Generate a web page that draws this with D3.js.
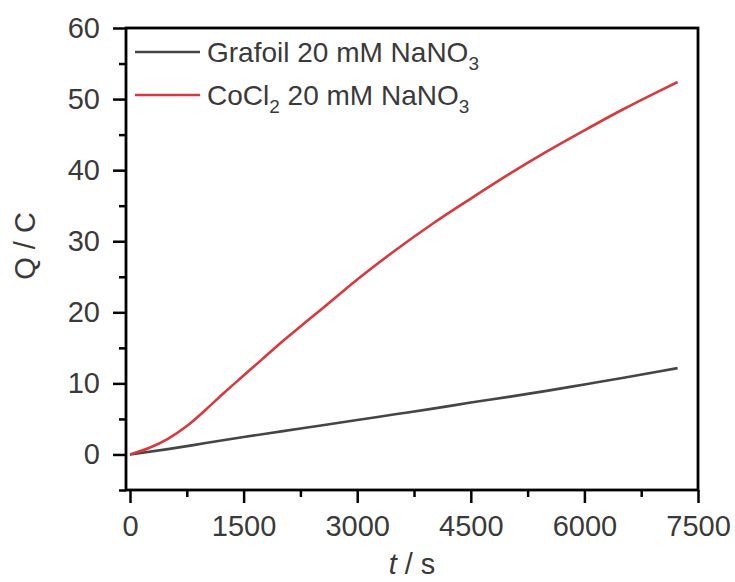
<!DOCTYPE html>
<html>
<head>
<meta charset="utf-8">
<script src="https://cdn.jsdelivr.net/npm/d3@7"></script>
<style>
  body { margin: 0; background: #fff; }
  svg text { font-family: "Liberation Sans", Arial, sans-serif; fill: #3a3a3a; }
</style>
</head>
<body>
<svg id="chart" width="735" height="582"></svg>
<script>
// data (t in s, Q in C)
var grafoilT = [0, 500, 1000, 1500, 2000, 2500, 3000, 3500, 4000, 4500, 5000, 5500, 6000, 6500, 7000, 7230];
var grafoilQ = [0, 0.75, 1.6, 2.45, 3.25, 4.05, 4.85, 5.65, 6.45, 7.3, 8.1, 8.95, 9.85, 10.75, 11.7, 12.15];
var cocl2T = [0, 250, 500, 750, 1000, 1250, 1500, 1750, 2000, 2250, 2500, 2750, 3000, 3500, 4000, 4500, 5000, 5500, 6000, 6500, 7000, 7230];
var cocl2Q = [0, 0.9, 2.2, 4.0, 6.3, 8.75, 11.1, 13.45, 15.8, 18.0, 20.2, 22.4, 24.6, 28.7, 32.5, 36.0, 39.4, 42.6, 45.6, 48.5, 51.2, 52.4];
var xTicks = [0, 1500, 3000, 4500, 6000, 7500];
var xMinor = [750, 2250, 3750, 5250, 6750];
var yTicks = [0, 10, 20, 30, 40, 50, 60];
var yMinor = [-5, 5, 15, 25, 35, 45, 55];

var svg = d3.select('#chart');
var pLeft = 126, pRight = 698, pTop = 28, pBottom = 490;

var x = d3.scaleLinear().domain([-53, 7500]).range([pLeft, pRight]);
var y = d3.scaleLinear().domain([-5, 60]).range([pBottom, pTop]);

function zip(a, b) { return a.map(function(d, i) { return [d, b[i]]; }); }

var series = [
  {name: 'Grafoil', data: zip(grafoilT, grafoilQ), color: '#454545'},
  {name: 'CoCl', data: zip(cocl2T, cocl2Q), color: '#d8393c'}
];

var line = d3.line()
  .x(function(d) { return x(d[0]); })
  .y(function(d) { return y(d[1]); })
  .curve(d3.curveMonotoneX);

series.forEach(function(s) {
  svg.append('path')
    .datum(s.data)
    .attr('fill', 'none')
    .attr('stroke', s.color)
    .attr('stroke-width', 2.6)
    .attr('d', line);
});

// minor ticks
svg.append('g')
  .attr('transform', 'translate(0,' + pBottom + ')')
  .call(d3.axisBottom(x).tickValues(xMinor).tickSize(7).tickFormat(''))
  .call(function(g) { g.select('.domain').remove(); });
svg.append('g')
  .attr('transform', 'translate(' + pLeft + ',0)')
  .call(d3.axisLeft(y).tickValues(yMinor).tickSize(7).tickFormat(''))
  .call(function(g) { g.select('.domain').remove(); });

// major ticks
var xAxis = svg.append('g')
  .attr('transform', 'translate(0,' + pBottom + ')')
  .call(d3.axisBottom(x).tickValues(xTicks).tickFormat(d3.format('d')).tickSize(13).tickPadding(12).tickSizeOuter(0));
var yAxis = svg.append('g')
  .attr('transform', 'translate(' + pLeft + ',0)')
  .call(d3.axisLeft(y).tickValues(yTicks).tickFormat(d3.format('d')).tickSize(13).tickPadding(13).tickSizeOuter(0));

[xAxis, yAxis].forEach(function(g) {
  g.select('.domain').remove();
  g.selectAll('text').attr('font-size', 29).attr('fill', '#3a3a3a')
    .style('font-family', '"Liberation Sans", Arial, sans-serif');
});
svg.selectAll('.tick line').attr('stroke', '#000').attr('stroke-width', 2.5);

// frame
svg.append('rect')
  .attr('x', pLeft).attr('y', pTop)
  .attr('width', pRight - pLeft).attr('height', pBottom - pTop)
  .attr('fill', 'none').attr('stroke', '#000').attr('stroke-width', 2.8);

// axis titles
svg.append('text')
  .attr('transform', 'translate(35,246) rotate(-90)')
  .attr('text-anchor', 'middle')
  .attr('font-size', 29)
  .text('Q / C');

var xt = svg.append('text')
  .attr('x', 412).attr('y', 574)
  .attr('text-anchor', 'middle')
  .attr('font-size', 29);
xt.append('tspan').attr('font-style', 'italic').text('t');
xt.append('tspan').text(' / s');

// legend
var legend = svg.append('g');
var rows = [
  {color: series[0].color, y: 52, parts: ['Grafoil 20 mM NaNO', null]},
  {color: series[1].color, y: 95, parts: ['CoCl', '2', ' 20 mM NaNO']}
];
rows.forEach(function(r) {
  legend.append('line')
    .attr('x1', 135).attr('x2', 200)
    .attr('y1', r.y).attr('y2', r.y)
    .attr('stroke', r.color).attr('stroke-width', 2.6);
  var t = legend.append('text')
    .attr('x', 207).attr('y', r.y + 10)
    .attr('font-size', 28);
  t.append('tspan').text(r.parts[0]);
  if (r.parts[1]) {
    t.append('tspan').attr('font-size', 19).attr('dy', 8).text(r.parts[1]);
    t.append('tspan').attr('dy', -8).text(r.parts[2]);
  }
  t.append('tspan').attr('font-size', 19).attr('dy', 8).text('3');
});
</script>
</body>
</html>
